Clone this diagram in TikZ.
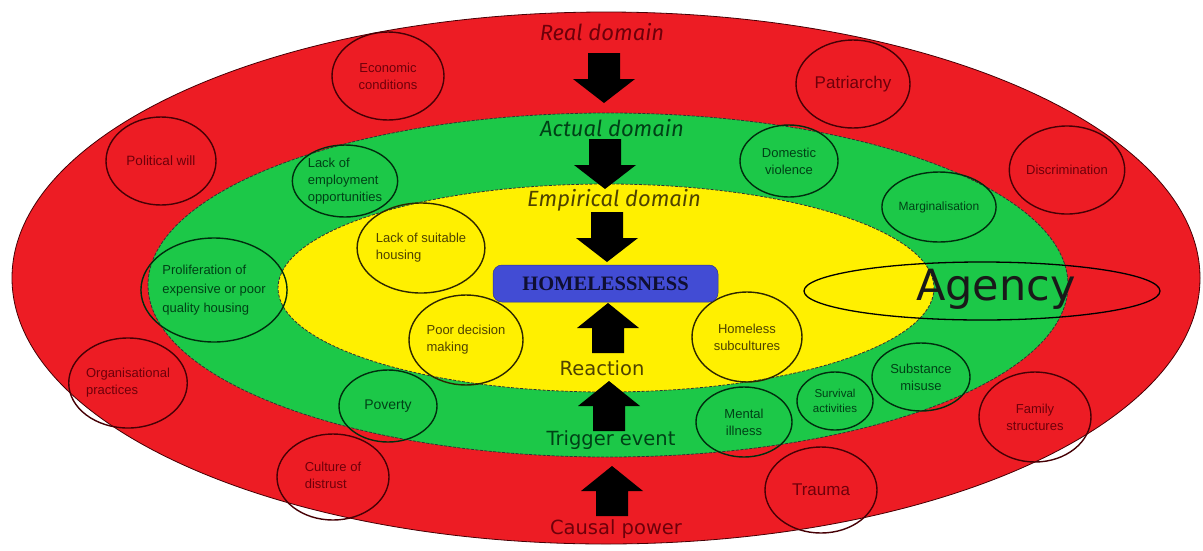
\documentclass[tikz,border=0pt]{standalone}
\usepackage{fontspec}
\setmainfont{Liberation Sans}
\newfontfamily\domfont{Fira Sans}
\newfontfamily\dvs{DejaVu Sans}
\newfontfamily\hserif{Liberation Serif}
\usetikzlibrary{shapes.geometric}
\definecolor{redring}{RGB}{237,28,36}
\definecolor{greenring}{RGB}{28,200,72}
\definecolor{yellowring}{RGB}{255,240,0}
\definecolor{hblue}{RGB}{66,76,212}
\definecolor{hnavy}{RGB}{15,15,50}
\definecolor{rtext}{RGB}{110,0,10}
\definecolor{gtext}{RGB}{0,65,22}
\definecolor{ytext}{RGB}{78,66,0}
\definecolor{rline}{RGB}{70,0,5}
\definecolor{gline}{RGB}{0,45,14}
\definecolor{yline}{RGB}{45,38,0}
\tikzset{
  sz/.style 2 args={minimum width=#1pt, minimum height=#2pt},
  circ/.style={ellipse, inner sep=0pt, line width=1.4pt, align=center,
    font=\fontsize{13}{17}\selectfont},
  rcirc/.style={circ, draw=rline, text=rtext},
  gcirc/.style={circ, draw=gline, text=gtext},
  ycirc/.style={circ, draw=yline, text=ytext},
  domlabel/.style={font=\domfont\itshape\fontsize{22}{24}\selectfont, inner sep=0pt},
  evlabel/.style={font=\dvs\fontsize{19.5}{22}\selectfont, inner sep=0pt},
  blockdown/.pic={\fill[black] (-16,0) -- (16,0) -- (16,26) -- (31,26) -- (0,50) -- (-31,26) -- (-16,26) -- cycle;},
  blockup/.pic={\fill[black] (0,0) -- (31,25) -- (16,25) -- (16,50) -- (-16,50) -- (-16,25) -- (-31,25) -- cycle;},
}
\begin{document}
\begin{tikzpicture}[x=1pt,y=-1pt]
\useasboundingbox (0,0) rectangle (1203,550);
\fill[white] (0,0) rectangle (1203,550);
% domains
\filldraw[fill=redring, draw=rline, line width=0.8pt] (606,278) ellipse [x radius=594, y radius=266];
\filldraw[fill=greenring, draw=black!80, line width=0.8pt, dash pattern=on 3pt off 1.5pt] (608,285) ellipse [x radius=460, y radius=172];
\filldraw[fill=yellowring, draw=black!80, line width=0.8pt, dash pattern=on 3pt off 1.5pt] (606,288) ellipse [x radius=328, y radius=104];

% real domain circles
\node[rcirc, sz={112}{88}] (econ) at (388,76) {Economic\\conditions};
\node[rcirc, sz={110}{88}, font=\fontsize{13.5}{17}\selectfont] (polit) at (161,161) {Political will};
\node[rcirc, sz={114}{88}, font=\fontsize{17}{20}\selectfont] (patr) at (853,84) {Patriarchy};
\node[rcirc, sz={112}{88}] (discr) at (1067,170) {Discrimination};
\node[rcirc, sz={112}{90}] (org) at (128,383) {\begin{tabular}{@{}l@{}}Organisational\\practices\end{tabular}};
\node[rcirc, sz={112}{86}] (cult) at (333,477) {\begin{tabular}{@{}l@{}}Culture of\\distrust\end{tabular}};
\node[rcirc, sz={112}{86}, font=\fontsize{17}{20}\selectfont] (trauma) at (821,490) {Trauma};
\node[rcirc, sz={112}{90}] (fam) at (1035,417) {Family\\structures};

% actual domain circles
\node[gcirc, sz={96}{72}, align=left] (employ) at (345,181) {Lack of\\employment\\opportunities};
\node[gcirc, sz={98}{72}] (domv) at (789,161) {Domestic\\violence};
\node[gcirc, sz={98}{70}, font=\fontsize{12}{16}\selectfont] (marg) at (939,207) {Marginalisation};
\node[gcirc, sz={124}{104}, align=left, font=\fontsize{13}{19}\selectfont] (prolif) at (214,290) {Proliferation of\\expensive or poor\\quality housing};
\node[gcirc, sz={98}{72}, font=\fontsize{14}{17}\selectfont] (pov) at (388,406) {Poverty};
\node[gcirc, sz={96}{70}] (mental) at (744,422) {Mental\\illness};
\node[gcirc, sz={76}{58}, font=\fontsize{11.5}{15}\selectfont] (surv) at (835,401) {Survival\\activities};
\node[gcirc, sz={98}{68}] (subst) at (921,377) {Substance\\misuse};

% empirical domain circles
\node[ycirc, sz={116}{90}, align=left] (lsh) at (421,248) {Lack of suitable\\housing};
\node[ycirc, sz={114}{90}, align=left] (poor) at (466,340) {Poor decision\\making};
\node[ycirc, sz={110}{90}] (hsub) at (747,337) {Homeless\\subcultures};

% block arrows
\pic at (604,53) {blockdown};
\pic at (605,139) {blockdown};
\pic at (607,212) {blockdown};
\pic at (608,303) {blockup};
\pic at (609,381) {blockup};
\pic at (612,466) {blockup};

% labels
\node[domlabel, text=rtext] (real) at (602,32) {Real domain};
\node[domlabel, text=gtext] (actual) at (612,128) {Actual domain};
\node[domlabel, text=ytext] (empir) at (614,200) {Empirical domain};
\node[evlabel, text=ytext] (react) at (602,368) {Reaction};
\node[evlabel, text=gtext] (trig) at (611,440) {Trigger event};
\node[evlabel, text=rtext] (causal) at (616,529) {Causal power};

% homelessness
\node[rectangle, rounded corners=9pt, fill=hblue, draw=hblue!70!black, line width=0.5pt,
  sz={225}{37}, inner sep=0pt, text=hnavy, font=\hserif\bfseries\fontsize{20.5}{22}\selectfont] (home) at (605.5,283.5) {HOMELESSNESS};

% agency
\node[ellipse, draw=black, line width=1.3pt, sz={356}{58}, inner sep=0pt] (agencyring) at (982,291) {};
\node[font=\dvs\fontsize{43}{46}\selectfont, text=black!90, inner sep=0pt] (agency) at (996,289) {Agency};
\end{tikzpicture}
\end{document}
